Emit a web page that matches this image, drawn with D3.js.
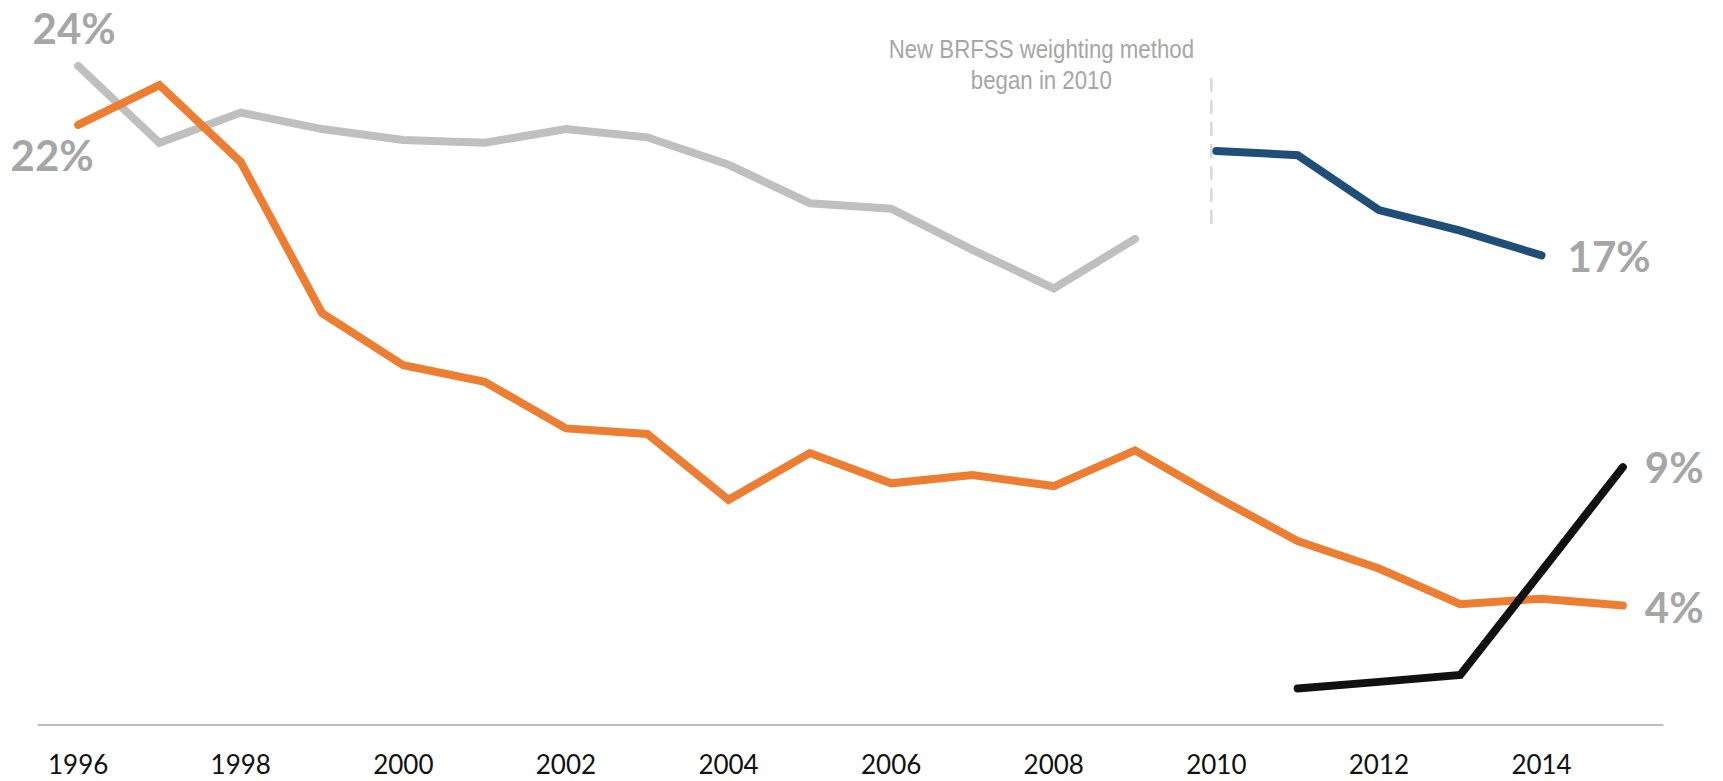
<!DOCTYPE html>
<html lang="en">
<head>
    <meta charset="UTF-8">
    <title>BRFSS trend</title>
    <script src="https://d3js.org/d3.v7.min.js"></script>
    <style>
        body { margin: 0; background: #fff; font-family: Lato, Arial, sans-serif; }
        svg { display: block; }
        .tick-label { font-size: 26px; fill: #111; }
        .end-label { font-size: 42px; font-weight: bold; fill: #a6a6a6; }
        .note { font-family: "Liberation Sans Narrow", "Liberation Sans", Arial, sans-serif; font-size: 25px; fill: #a6a6a6; }
    </style>
</head>
<body>
    <svg id="chart"></svg>
    <script>
        const years = [1996, 1997, 1998, 1999, 2000, 2001, 2002, 2003, 2004, 2005,
                       2006, 2007, 2008, 2009, 2010, 2011, 2012, 2013, 2014, 2015];
        const tickYears = [1996, 1998, 2000, 2002, 2004, 2006, 2008, 2010, 2012, 2014];

        // old weighting, 1996-2009
        const grayYears = [1996, 1997, 1998, 1999, 2000, 2001, 2002, 2003, 2004, 2005, 2006, 2007, 2008, 2009];
        const grayValues = [24.0, 21.2, 22.3, 21.7, 21.3, 21.2, 21.7, 21.4, 20.4, 19.0, 18.8, 17.3, 15.9, 17.7];

        const orangeValues = [21.85, 23.3, 20.5, 15.0, 13.1, 12.5, 10.8, 10.6, 8.2, 9.9,
                              8.8, 9.1, 8.7, 10.0, 8.3, 6.7, 5.7, 4.4, 4.6, 4.35];

        // new weighting, 2010 on
        const blueYears = [2010, 2011, 2012, 2013, 2014];
        const blueValues = [20.9, 20.75, 18.75, 18.0, 17.1];

        const blackYears = [2011, 2012, 2013, 2014, 2015];
        const blackValues = [1.33, 1.57, 1.82, 5.6, 9.39];

        const W = 1723, H = 781;
        const svg = d3.select("#chart").attr("width", W).attr("height", H);

        const x = d3.scaleLinear().domain([1995.5, 2015.5]).range([37.5, 1663.5]);
        const y = d3.scaleLinear().domain([0, 26.4]).range([725, 0]);

        const line = d3.line().x(d => x(d[0])).y(d => y(d[1]));
        const zip = (xs, vs) => xs.map((v, i) => [v, vs[i]]);

        // baseline axis
        svg.append("line")
           .attr("x1", x(1995.5)).attr("x2", x(2015.5))
           .attr("y1", y(0)).attr("y2", y(0))
           .attr("stroke", "#a6a6a6").attr("stroke-width", 1.5);

        svg.selectAll(".tick-label")
           .data(tickYears)
           .enter()
           .append("text")
           .attr("class", "tick-label")
           .attr("x", d => x(d))
           .attr("y", 774)
           .attr("text-anchor", "middle")
           .text(d => d);

        // break marker for new weighting
        svg.append("line")
           .attr("x1", x(2010) - 5).attr("x2", x(2010) - 5)
           .attr("y1", 78).attr("y2", 227)
           .attr("stroke", "#d9d9d9").attr("stroke-width", 2.5)
           .attr("stroke-dasharray", "14,8");

        const noteX = x(2010) - 175;
        const note = svg.append("text")
           .attr("class", "note")
           .attr("text-anchor", "middle")
           .attr("transform", `translate(${noteX},0) scale(0.89,1)`);
        note.append("tspan").attr("x", 0).attr("y", 58).text("New BRFSS weighting method");
        note.append("tspan").attr("x", 0).attr("y", 89).text("began in 2010");

        const series = [
            {pts: zip(grayYears, grayValues), color: "#bfbfbf"},
            {pts: zip(years, orangeValues), color: "#ed7d31"},
            {pts: zip(blueYears, blueValues), color: "#1f4e79"},
            {pts: zip(blackYears, blackValues), color: "#111111"}
        ];

        svg.selectAll(".series")
           .data(series)
           .enter()
           .append("path")
           .attr("class", "series")
           .attr("d", d => line(d.pts))
           .attr("fill", "none")
           .attr("stroke", d => d.color)
           .attr("stroke-width", 8)
           .attr("stroke-linecap", "round")
           .attr("stroke-linejoin", "miter");

        const labels = [
            {text: "24%", x: x(1996) - 4, y: y(grayValues[0]) - 22, anchor: "middle"},
            {text: "22%", x: x(1996) - 26, y: y(orangeValues[0]) + 46, anchor: "middle"},
            {text: "17%", x: x(2014) + 26, y: y(blueValues[4]) + 17, anchor: "start"},
            {text: "9%", x: x(2015) + 22, y: y(blackValues[4]) + 16, anchor: "start"},
            {text: "4%", x: x(2015) + 22, y: y(orangeValues[19]) + 17, anchor: "start"}
        ];

        svg.selectAll(".end-label")
           .data(labels)
           .enter()
           .append("text")
           .attr("class", "end-label")
           .attr("x", d => d.x)
           .attr("y", d => d.y)
           .attr("text-anchor", d => d.anchor)
           .text(d => d.text);
    </script>
</body>
</html>
